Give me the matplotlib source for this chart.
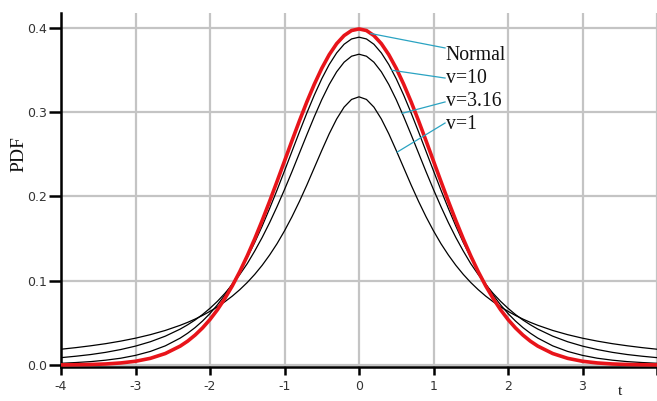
import numpy as np
import matplotlib
matplotlib.use("Agg")
import matplotlib.pyplot as plt

# ---- data ----
t = [-4.0, -3.8, -3.6, -3.4, -3.2, -3.0, -2.8, -2.6, -2.4,
     -2.3, -2.2, -2.1, -2.0, -1.9, -1.8, -1.7, -1.6, -1.5, -1.4, -1.3, -1.2, -1.1, -1.0,
     -0.9, -0.8, -0.7, -0.6, -0.5, -0.4, -0.3, -0.2, -0.1, 0.0,
     0.1, 0.2, 0.3, 0.4, 0.5, 0.6, 0.7, 0.8, 0.9,
     1.0, 1.1, 1.2, 1.3, 1.4, 1.5, 1.6, 1.7, 1.8, 1.9, 2.0, 2.1, 2.2, 2.3,
     2.4, 2.6, 2.8, 3.0, 3.2, 3.4, 3.6, 3.8, 4.0]

pdf_v1 = [0.0187, 0.0206, 0.0228, 0.0253, 0.0283, 0.0318, 0.0360, 0.0410, 0.0471,
          0.0506, 0.0545, 0.0588, 0.0637, 0.0690, 0.0751, 0.0818, 0.0894, 0.0979, 0.1075, 0.1183, 0.1305, 0.1440, 0.1592,
          0.1759, 0.1941, 0.2136, 0.2341, 0.2546, 0.2744, 0.2920, 0.3061, 0.3152, 0.3183,
          0.3152, 0.3061, 0.2920, 0.2744, 0.2546, 0.2341, 0.2136, 0.1941, 0.1759,
          0.1592, 0.1440, 0.1305, 0.1183, 0.1075, 0.0979, 0.0894, 0.0818, 0.0751, 0.0690, 0.0637, 0.0588, 0.0545, 0.0506,
          0.0471, 0.0410, 0.0360, 0.0318, 0.0283, 0.0253, 0.0228, 0.0206, 0.0187]

pdf_v316 = [0.0087, 0.0104, 0.0124, 0.0150, 0.0183, 0.0224, 0.0276, 0.0342, 0.0426,
            0.0477, 0.0534, 0.0599, 0.0673, 0.0756, 0.0850, 0.0956, 0.1074, 0.1203, 0.1352, 0.1513, 0.1689, 0.1880, 0.2082,
            0.2294, 0.2514, 0.2733, 0.2947, 0.3149, 0.3329, 0.3480, 0.3594, 0.3665, 0.3689,
            0.3665, 0.3594, 0.3480, 0.3329, 0.3149, 0.2947, 0.2733, 0.2514, 0.2294,
            0.2082, 0.1880, 0.1689, 0.1513, 0.1352, 0.1203, 0.1074, 0.0956, 0.0850, 0.0756, 0.0673, 0.0599, 0.0534, 0.0477,
            0.0426, 0.0342, 0.0276, 0.0224, 0.0183, 0.0150, 0.0124, 0.0104, 0.0087]

pdf_v10 = [0.0020, 0.0029, 0.0040, 0.0057, 0.0080, 0.0114, 0.0161, 0.0227, 0.0319,
           0.0377, 0.0444, 0.0522, 0.0611, 0.0714, 0.0831, 0.0963, 0.1110, 0.1275, 0.1454, 0.1648, 0.1857, 0.2076, 0.2304,
           0.2535, 0.2766, 0.2991, 0.3203, 0.3397, 0.3566, 0.3704, 0.3807, 0.3870, 0.3891,
           0.3870, 0.3807, 0.3704, 0.3566, 0.3397, 0.3203, 0.2991, 0.2766, 0.2535,
           0.2304, 0.2076, 0.1857, 0.1648, 0.1454, 0.1275, 0.1110, 0.0963, 0.0831, 0.0714, 0.0611, 0.0522, 0.0444, 0.0377,
           0.0319, 0.0227, 0.0161, 0.0114, 0.0080, 0.0057, 0.0040, 0.0029, 0.0020]

pdf_normal = [0.0001, 0.0003, 0.0006, 0.0012, 0.0024, 0.0044, 0.0079, 0.0136, 0.0224,
              0.0283, 0.0355, 0.0440, 0.0540, 0.0656, 0.0790, 0.0940, 0.1109, 0.1295, 0.1497, 0.1714, 0.1942, 0.2179, 0.2420,
              0.2661, 0.2897, 0.3123, 0.3332, 0.3521, 0.3683, 0.3814, 0.3910, 0.3970, 0.3989,
              0.3970, 0.3910, 0.3814, 0.3683, 0.3521, 0.3332, 0.3123, 0.2897, 0.2661,
              0.2420, 0.2179, 0.1942, 0.1714, 0.1497, 0.1295, 0.1109, 0.0940, 0.0790, 0.0656, 0.0540, 0.0440, 0.0355, 0.0283,
              0.0224, 0.0136, 0.0079, 0.0044, 0.0024, 0.0012, 0.0006, 0.0003, 0.0001]

labels = ["Normal", "v=10", "v=3.16", "v=1"]
label_anchor_t = [0.16, 0.44, 0.58, 0.51]   # where the leader touches each curve
label_baseline = [0.3620, 0.3347, 0.3074, 0.2801]
leader_end_y = [0.3763, 0.3406, 0.3122, 0.2872]

xticks = [-4, -3, -2, -1, 0, 1, 2, 3, 4]
xticklabels = ["-4", "-3", "-2", "-1", "0", "1", "2", "3", ""]
yticks = [0.0, 0.1, 0.2, 0.3, 0.4]
yticklabels = ["0.0", "0.1", "0.2", "0.3", "0.4"]

# ---- figure ----
fig = plt.figure(figsize=(6.57, 4.01), dpi=100)
ax = fig.add_axes([61 / 657, 1 - 367 / 401, 1 - 61 / 657, (367 - 13) / 401])

grid_c = "#c4c4c4"
ax.set_xlim(-4, 4)
ax.set_ylim(-0.0024, 0.4178)
ax.set_xticks(xticks)
ax.set_xticklabels(xticklabels)
ax.set_yticks(yticks)
ax.set_yticklabels(yticklabels)
ax.grid(True, color=grid_c, linewidth=1.6, zorder=0)
ax.set_axisbelow(True)

for s in ["top", "right"]:
    ax.spines[s].set_visible(False)
for s in ["left", "bottom"]:
    ax.spines[s].set_linewidth(1.8)
    ax.spines[s].set_color("black")

ax.tick_params(axis="x", direction="out", length=6, width=1.8, pad=3,
               labelsize=9, labelcolor="#333333")
ax.tick_params(axis="y", direction="out", length=9, width=1.8, pad=1,
               labelsize=9, labelcolor="#333333")

curves = [pdf_normal, pdf_v10, pdf_v316, pdf_v1]
ax.plot(t, pdf_v1, color="black", lw=0.9, zorder=3)
ax.plot(t, pdf_v316, color="black", lw=0.9, zorder=3)
ax.plot(t, pdf_v10, color="black", lw=0.9, zorder=3)
ax.plot(t, pdf_normal, color="#e8141a", lw=2.6, zorder=4,
        solid_capstyle="round", solid_joinstyle="round")

lead_c = "#2aa3c2"
label_x = 1.165
for lab, at, lb, ey, cur in zip(labels, label_anchor_t, label_baseline,
                                leader_end_y, curves):
    ay = float(np.interp(at, t, cur))
    ax.plot([at, label_x - 0.01], [ay, ey], color=lead_c, lw=0.9, zorder=5)
    ax.text(label_x, lb, lab, ha="left", va="baseline", fontsize=14.2,
            family="Liberation Serif", color="#111111", zorder=6)

ax.text(-0.0705, 0.602, "PDF", transform=ax.transAxes, rotation=90,
        ha="center", va="center", fontsize=14, family="Liberation Serif",
        color="#111111")
ax.text(0.938, -0.087, "t", transform=ax.transAxes, ha="center",
        va="bottom", fontsize=11, family="Liberation Serif", color="#111111")

fig.savefig("out.png", dpi=100)
